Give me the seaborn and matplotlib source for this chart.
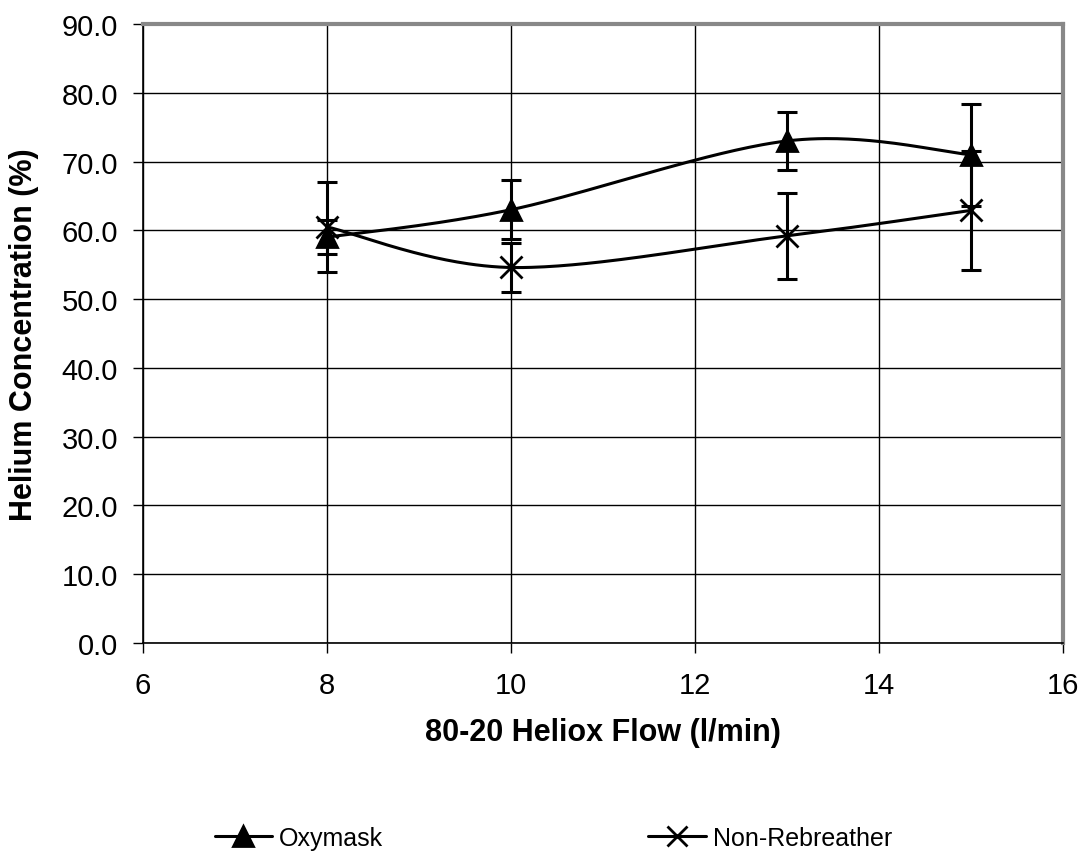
import numpy as np
import pandas as pd
import matplotlib
matplotlib.use('Agg')
import matplotlib.pyplot as plt
from matplotlib.lines import Line2D
import seaborn as sns

flow = [8, 10, 13, 15]
oxymask = [59.0, 63.0, 73.0, 71.0]
oxymask_err = [2.5, 4.3, 4.2, 7.4]
nonrebreather = [60.5, 54.6, 59.2, 62.9]
nonrebreather_err = [6.6, 3.6, 6.3, 8.7]


def smooth(xs, ys, n=60):
    # Bezier smoothing like a spreadsheet "smoothed line"
    pts = np.column_stack([xs, ys]).astype(float)
    pts = np.vstack([pts[0], pts, pts[-1]])
    out = []
    t = np.linspace(0, 1, n)[:, None]
    for i in range(1, len(pts) - 2):
        p0, p1, p2, p3 = pts[i - 1], pts[i], pts[i + 1], pts[i + 2]
        c1 = p1 + (p2 - p0) / 6
        c2 = p2 - (p3 - p1) / 6
        seg = ((1 - t) ** 3) * p1 + 3 * ((1 - t) ** 2) * t * c1 + 3 * (1 - t) * t ** 2 * c2 + t ** 3 * p2
        out.append(seg)
    out = np.vstack(out)
    return pd.DataFrame({'x': out[:, 0], 'y': out[:, 1]})


sns.set_style('white')
plt.rcParams['font.family'] = ['Liberation Sans', 'DejaVu Sans']
plt.rcParams['text.color'] = 'black'
plt.rcParams['axes.labelcolor'] = 'black'
plt.rcParams['xtick.color'] = 'black'
plt.rcParams['ytick.color'] = 'black'

fig = plt.figure(figsize=(10.85, 8.54), dpi=100)
ax = fig.add_axes([0.1318, 0.2459, 0.8479, 0.7248])

handles = []
for ys, err, mk, label in [(oxymask, oxymask_err, '^', 'Oxymask'),
                           (nonrebreather, nonrebreather_err, 'x', 'Non-Rebreather')]:
    curve = smooth(flow, ys)
    sns.lineplot(data=curve, x='x', y='y', ax=ax, color='black', lw=2.2, sort=False,
                 legend=False, zorder=3)
    ax.errorbar(flow, ys, yerr=err, fmt='none', ecolor='black', elinewidth=2.2,
                capsize=7, capthick=2.2, zorder=4)
    ax.plot(flow, ys, ls='none', marker=mk, color='black', ms=15 if mk == '^' else 16,
            mew=2.0, zorder=5)
    handles.append(Line2D([], [], color='black', lw=2.2, marker=mk, ms=14, mew=2.0, label=label))

if ax.get_legend() is not None:
    ax.get_legend().remove()

ax.set_xlim(6, 16)
ax.set_ylim(0, 90)
ax.set_xticks(np.arange(6, 17, 2))
ax.set_yticks(np.arange(0, 91, 10))
ax.yaxis.set_major_formatter(matplotlib.ticker.FormatStrFormatter('%.1f'))
ax.grid(True, color='black', lw=1.0)
ax.set_axisbelow(True)
ax.tick_params(axis='both', labelsize=21, length=7, width=1.0, color='black',
               direction='out', bottom=True, left=True)
ax.tick_params(axis='x', pad=13)
ax.tick_params(axis='y', pad=11)
for s in ['left', 'bottom']:
    ax.spines[s].set_color('black')
    ax.spines[s].set_linewidth(1.2)
for s in ['top', 'right']:
    ax.spines[s].set_color('#888888')
    ax.spines[s].set_linewidth(3)

ax.set_xlabel('80-20 Heliox Flow (l/min)', fontsize=22, fontweight='bold', labelpad=13)
ax.set_ylabel('Helium Concentration (%)', fontsize=22, fontweight='bold', labelpad=16)

fig.legend(handles=handles, loc='center', bbox_to_anchor=(0.51, 15 / 854), ncol=2,
           frameon=False, fontsize=18, handlelength=2.3, handletextpad=0.28,
           columnspacing=10.6, borderpad=0)

fig.savefig('out.png', dpi=100, facecolor='white')
